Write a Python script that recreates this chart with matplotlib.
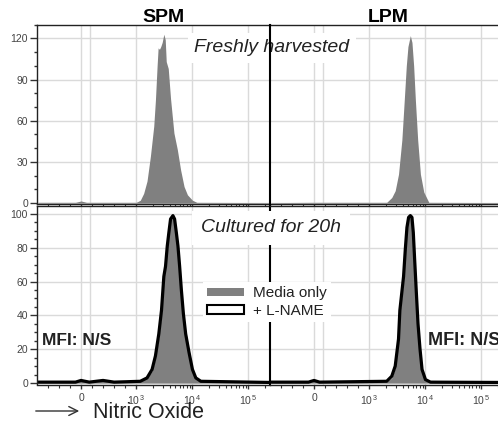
import matplotlib
matplotlib.use('Agg')
import matplotlib.pyplot as plt
from matplotlib.patches import Patch

plt.rcParams['font.family'] = ['Liberation Sans', 'DejaVu Sans']
plt.rcParams['mathtext.fontset'] = 'custom'
plt.rcParams['mathtext.rm'] = 'Liberation Sans'

# Histogram data (fluorescence intensity vs. count)
spm_fresh_x = [-780, -100, 0, 100, 500, 1009, 1190, 1367, 1570, 1803, 2070, 2218, 2377, 2477,
               2618, 2761, 2925, 3133, 3319, 3459, 3757, 4130, 4745, 5454, 6252, 7194, 8260,
               10160, 12160, 262144]
spm_fresh_y = [0.5, 0.5, 1.5, 0.5, 0.5, 0.5, 2, 7, 16, 34, 56, 75, 100, 113,
               112, 114, 117, 123, 119, 103, 98, 76, 51, 39, 24, 12, 6,
               2, 0.5, 0.3]

lpm_fresh_x = [-780, 0, 2066, 2543, 2930, 3357, 3852, 4252, 4624, 4945, 5457, 5834, 6252,
               6714, 7380, 8260, 9484, 11660, 262144]
lpm_fresh_y = [0.3, 0.5, 0.5, 4, 9, 21, 46, 75, 100, 114, 122, 117, 100,
               75, 46, 21, 8, 0.5, 0.3]

spm_cult_x = [-780, -100, 0, 150, 400, 600, 1190, 1570, 1932, 2218, 2547, 2846, 3133, 3357,
              3606, 3852, 4130, 4550, 4875, 5236, 5598, 5998, 6442, 6998, 7690, 8832, 10160,
              11660, 14350, 262144]
spm_cult_media = [0.5, 0.5, 1, 0.5, 1, 0.5, 1, 3, 7, 15, 27, 41, 60, 70,
                  83, 91, 98, 100, 96, 88, 80, 68, 56, 43, 31, 20, 9,
                  3, 1, 0.3]
spm_cult_lname = [0.5, 0.5, 1.5, 0.5, 1.5, 0.5, 1, 3, 8, 16, 29, 43, 63, 69,
                  81, 89, 97, 99, 97, 89, 81, 69, 55, 41, 29, 18, 8,
                  3, 1, 0.3]

lpm_cult_x = [-780, -100, 0, 100, 2066, 2543, 2930, 3357, 3548, 4130, 4436, 4745, 5082, 5457,
              5834, 6166, 6516, 6998, 7482, 8128, 8832, 10160, 12500, 262144]
lpm_cult_media = [0.3, 0.3, 1, 0.3, 0.5, 3, 9, 24, 41, 61, 78, 91, 98, 100,
                  97, 88, 72, 52, 34, 19, 7, 2, 0.5, 0.3]
lpm_cult_lname = [0.5, 0.5, 1.5, 0.5, 1, 4, 10, 26, 43, 63, 79, 92, 98, 99,
                  98, 89, 73, 53, 35, 20, 8, 2, 0.5, 0.3]

x_ticks = [0, 1e3, 1e4, 1e5]
x_ticklabels = ['0', '10$^{\\,3}$', '10$^{\\,4}$', '10$^{\\,5}$']
x_minor = [-600, -400, -200, 200, 400, 600, 800] + [m * 10 ** e for e in (3, 4) for m in range(2, 10)] + [2e5]

GREY = '#808080'
W, H = 498, 428
fig = plt.figure(figsize=(W / 100, H / 100), dpi=100)


def add_ax(x0, y0, x1, y1):
    return fig.add_axes([x0 / W, 1 - y1 / H, (x1 - x0) / W, (y1 - y0) / H])


ax_tl = add_ax(37, 24.6, 270, 204.4)
ax_tr = add_ax(270, 24.6, 503, 204.4)
ax_bl = add_ax(37, 206, 270, 384.5)
ax_br = add_ax(270, 206, 503, 384.5)

for ax in (ax_tl, ax_tr, ax_bl, ax_br):
    ax.set_xscale('symlog', linthresh=1000, linscale=0.884)
    ax.set_xlim(-800, 246000)
    ax.set_xticks(x_ticks)
    ax.set_xticks(x_minor, minor=True)
    ax.axvline(160, color='#dadada', lw=1, zorder=0)
    ax.grid(True, which='major', color='#dadada', lw=1, zorder=0)
    ax.set_axisbelow(True)
    for s in ax.spines.values():
        s.set_color('#222222')
        s.set_linewidth(1)
    ax.tick_params(axis='x', which='major', direction='out', length=3, width=1, color='#333333',
                   labelsize=7.5, labelcolor='#444444', pad=3)
    ax.tick_params(axis='x', which='minor', direction='out', length=2, width=0.8, color='#333333')
    ax.tick_params(axis='y', which='major', direction='out', length=5, width=1, color='#333333',
                   labelsize=7.5, labelcolor='#444444', pad=1.5)
    ax.tick_params(axis='y', which='minor', direction='out', length=2, width=1, color='#333333')

for ax in (ax_tl, ax_tr):
    ax.set_ylim(-1, 130)
    ax.set_yticks([0, 30, 60, 90, 120])
    ax.set_yticks(range(0, 131, 10), minor=True)
    ax.set_xticklabels([])

for ax in (ax_bl, ax_br):
    ax.set_ylim(-0.9, 104.7)
    ax.set_yticks([0, 20, 40, 60, 80, 100])
    ax.set_yticks(range(0, 105, 5), minor=True)
    ax.set_xticklabels(x_ticklabels)

for ax in (ax_tr, ax_br):
    ax.tick_params(axis='y', which='both', left=False, labelleft=False)
    ax.spines['left'].set_color('black')
    ax.spines['left'].set_linewidth(1.5)

# histograms
ax_tl.fill_between(spm_fresh_x, spm_fresh_y, color=GREY, lw=0, zorder=2)
ax_tr.fill_between(lpm_fresh_x, lpm_fresh_y, color=GREY, lw=0, zorder=2)
ax_bl.fill_between(spm_cult_x, spm_cult_media, color=GREY, lw=0, zorder=2)
ax_bl.plot(spm_cult_x, spm_cult_lname, color='black', lw=2.3, zorder=2.2)
ax_br.fill_between(lpm_cult_x, lpm_cult_media, color=GREY, lw=0, zorder=2)
ax_br.plot(lpm_cult_x, lpm_cult_lname, color='black', lw=2.3, zorder=2.2)

# titles and labels
fig.text(163 / W, 1 - 17 / H, 'SPM', ha='center', va='center', fontsize=14, fontweight='bold')
fig.text(388 / W, 1 - 17 / H, 'LPM', ha='center', va='center', fontsize=14, fontweight='bold')

ax_tr.text(272 / W, 1 - 48 / H, 'Freshly harvested', transform=fig.transFigure, ha='center',
           va='center', fontsize=14, style='italic', color='#222222', clip_on=False, zorder=3,
           bbox=dict(boxstyle='square,pad=0.35', fc='white', ec='none'))
ax_tr.spines['left'].set_zorder(4)
ax_br.text(271 / W, 1 - 228 / H, 'Cultured for 20h', transform=fig.transFigure, ha='center',
           va='center', fontsize=14, style='italic', color='#222222', clip_on=False, zorder=3,
           bbox=dict(boxstyle='square,pad=0.45', fc='white', ec='none'))

ax_bl.text(0.02, 25, 'MFI: N/S', transform=ax_bl.get_yaxis_transform(), ha='left',
           va='center', fontsize=12.5, fontweight='bold', color='#222222')
ax_br.text(0.678, 25.4, 'MFI: N/S', transform=ax_br.get_yaxis_transform(), ha='left',
           va='center', fontsize=13, fontweight='bold', color='#222222')

handles = [Patch(facecolor=GREY, edgecolor='none'),
           Patch(facecolor='white', edgecolor='black', linewidth=1.5)]
leg = ax_br.legend(handles, ['Media only', '+ L-NAME'], loc='center',
                   bbox_to_anchor=(267 / W, 1 - 302 / H), bbox_transform=fig.transFigure,
                   fontsize=11, frameon=True, framealpha=1, fancybox=False, edgecolor='none',
                   handlelength=2.4, handleheight=0.45, handletextpad=0.6, labelspacing=0.25,
                   borderpad=0.3, borderaxespad=0)
for t in leg.get_texts():
    t.set_color('#222222')

ax_bl.annotate('', xy=(82 / W, 1 - 411 / H), xytext=(33 / W, 1 - 411 / H),
               xycoords='figure fraction', textcoords='figure fraction', annotation_clip=False,
               arrowprops=dict(arrowstyle='->', lw=1, color='#333333', mutation_scale=16))
fig.text(93 / W, 1 - 418 / H, 'Nitric Oxide', ha='left', va='baseline', fontsize=15.5,
         color='#222222')

plt.savefig('out.png', dpi=100)
plt.close()
